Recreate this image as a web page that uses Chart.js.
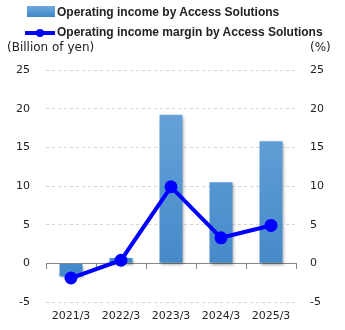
<!DOCTYPE html>
<html>
<head>
<meta charset="utf-8">
<script src="https://cdn.jsdelivr.net/npm/chart.js@4"></script>
<style>
  html, body { margin: 0; padding: 0; background: #fff; }
  #wrap { position: relative; width: 345px; height: 330px; font-family: 'DejaVu Sans', sans-serif; color: #222; }
  #wrap canvas { position: absolute; left: 0; top: 0; }
  .leg { position: absolute; left: 25px; font-family: 'Liberation Sans', sans-serif; font-weight: bold; font-size: 12px; white-space: nowrap; }
  .leg .sw { position: absolute; }
  .unit { position: absolute; top: 40px; font-size: 12px; }
</style>
</head>
<body>
<div id="wrap">
  <canvas id="chart" width="345" height="330"></canvas>
  <div class="leg" style="top:5px">
    <span class="sw" style="left:2px;top:1px;width:28px;height:11px;background:linear-gradient(#6fa8dc,#3f86c8)"></span>
    <span style="padding-left:32px">Operating income by Access Solutions</span>
  </div>
  <div class="leg" style="top:25px">
    <span class="sw" style="left:0;top:6px;width:30px;height:4px;background:#0000ff"></span>
    <span class="sw" style="left:11px;top:4px;width:8px;height:8px;border-radius:50%;background:#0000ff"></span>
    <span style="padding-left:32px">Operating income margin by Access Solutions</span>
  </div>
  <div class="unit" style="left:7px">(Billion of yen)</div>
  <div class="unit" style="left:310px">(%)</div>
</div>
<script>
// --- Data ---
const years = ['2021/3', '2022/3', '2023/3', '2024/3', '2025/3'];
const incomeValues = [-1.7, 0.7, 19.2, 10.5, 15.8];   // billion yen
const marginValues = [-1.9, 0.4, 9.9, 3.3, 4.9];      // %
const yTicks = [-5, 0, 5, 10, 15, 20, 25];

Chart.defaults.font.family = "'DejaVu Sans', sans-serif";
Chart.defaults.font.size = 11;
Chart.defaults.color = '#222';

// bar gradient, lighter at top
function barFill(ctx) {
    const area = ctx.chart.chartArea;
    if (!area) return '#5b9bd5';
    const g = ctx.chart.ctx.createLinearGradient(0, area.top, 0, area.bottom);
    g.addColorStop(0, '#6fa8dc');
    g.addColorStop(1, '#3d84c6');
    return g;
}

// soft shadow under the bars
const barShadow = {
    id: 'barShadow',
    beforeDatasetDraw(chart, args) {
        if (args.index !== 1) return;
        const c = chart.ctx;
        c.save();
        c.shadowColor = 'rgba(0,0,0,0.35)';
        c.shadowBlur = 3;
        c.shadowOffsetX = 1;
        c.shadowOffsetY = 2;
    },
    afterDatasetDraw(chart, args) {
        if (args.index !== 1) return;
        chart.ctx.restore();
    }
};

const gridColor = ctx => ctx.tick && ctx.tick.value === 0 ? 'rgba(0,0,0,0)' : '#d4d4d4';

new Chart(document.getElementById('chart'), {
    type: 'bar',
    data: {
        labels: years,
        datasets: [
            {
                type: 'line',
                label: 'Operating income margin by Access Solutions',
                data: marginValues,
                yAxisID: 'y2',
                borderColor: '#0000ff',
                backgroundColor: '#0000ff',
                borderWidth: 4,
                pointRadius: 4.5,
                pointHoverRadius: 4.5,
                tension: 0,
                order: 0
            },
            {
                label: 'Operating income by Access Solutions',
                data: incomeValues,
                yAxisID: 'y',
                backgroundColor: barFill,
                barPercentage: 0.46,
                categoryPercentage: 1,
                order: 1
            }
        ]
    },
    options: {
        responsive: false,
        animation: false,
        layout: { padding: { top: 70, left: 0, right: 0, bottom: 0 } },
        plugins: { legend: { display: false }, tooltip: { enabled: false } },
        scales: {
            x: {
                grid: { display: false },
                border: { display: false },
                ticks: { padding: 0, maxRotation: 0 },
                afterFit: s => { s.height = 28; }
            },
            x0: {
                type: 'category',
                position: { y: 0 },
                grid: { offset: true, drawOnChartArea: false, drawTicks: true, tickLength: 5, color: '#888' },
                border: { display: true, color: '#888', width: 1 },
                ticks: { display: false }
            },
            y: {
                position: 'left',
                min: -5, max: 25,
                afterBuildTicks: s => { s.ticks = yTicks.map(v => ({ value: v })); },
                grid: { color: gridColor, drawTicks: false },
                border: { display: false, dash: [3, 3] },
                ticks: { padding: 16 },
                afterFit: s => { s.width = 46; }
            },
            y2: {
                position: 'right',
                min: -5, max: 25,
                afterBuildTicks: s => { s.ticks = yTicks.map(v => ({ value: v })); },
                grid: { drawOnChartArea: false, drawTicks: false },
                border: { display: false },
                ticks: { padding: 14 },
                afterFit: s => { s.width = 49; }
            }
        }
    },
    plugins: [barShadow]
});
</script>
</body>
</html>
